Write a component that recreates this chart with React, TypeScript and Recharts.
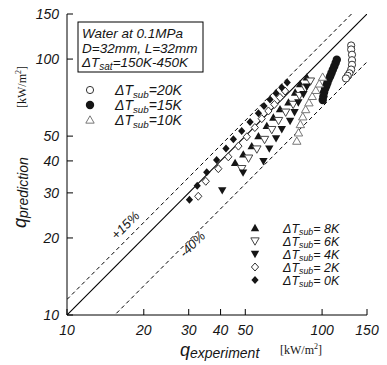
import { ReferenceLine, Scatter, ScatterChart, XAxis, YAxis } from "recharts";

const axisTicks = [10, 20, 30, 40, 50, 100, 150];
const innerTicks = [20, 30, 40, 50, 100];

// experiment / prediction pairs per subcooling, kW/m2
const exp20K = [130, 130, 131, 131, 131, 130, 128, 126, 124];
const pred20K = [113, 109, 104, 99, 95, 91, 88, 86, 84];

const exp15K = [100.6, 101.2, 101.8, 102.8, 103.8, 104.8, 106, 107.5, 108.8, 110.2, 111.6, 113, 114.2];
const pred15K = [69.2, 71.5, 74, 76.5, 78.5, 80.5, 83, 85.5, 88, 90.8, 93.5, 96.5, 99.4];

const exp10K = [79.6, 80.8, 82.2, 84.0, 86.2, 88.8, 91.5, 94.5, 97.5, 100.5];
const pred10K = [47.8, 51.5, 55.5, 59.5, 63.5, 67.5, 71.5, 75.5, 80, 85];

const exp8K = [45.6, 49.1, 53.0, 56.3, 60.7, 64.4, 68.4, 73.8, 78.4, 82.0, 87.1];
const pred8K = [39.3, 42.4, 45.7, 50.0, 54.8, 59.1, 63.7, 67.7, 74.0, 79.8, 84.8];

const exp6K = [48.4, 51.5, 55.5, 59.5, 63.5, 67.5, 72, 77, 81.5, 86, 90];
const pred6K = [37.3, 41.0, 44.5, 48.5, 53, 57.5, 62, 66.5, 72, 77, 82];

const exp4K = [40.6, 49, 58.9, 62.1, 66, 69.5, 74.9, 78, 80.7, 84.5, 87.1];
const pred4K = [30.7, 36, 39.9, 44.7, 49, 53.2, 57.3, 62, 67.7, 72.9, 78];

const exp2K = [32.7, 35.0, 39.2, 42.9, 47.0, 50.7, 54.5, 58, 61.6, 65, 68.4, 71.6];
const pred2K = [29.1, 33.3, 37.3, 41.5, 45.7, 49.7, 54, 58.5, 62.7, 66.5, 70.8, 75];

const exp0K = [30.2, 32.4, 35.3, 38.6, 42.0, 44.9, 48.4, 52.2, 56.3, 59.2, 62.5, 66, 69.5, 73];
const pred0K = [28.2, 32.0, 36.1, 40.3, 44.7, 48.6, 52.3, 56.8, 61.4, 65.6, 69.5, 73.5, 77.5, 81];

// band lines: q_pred = factor * q_exp
const upperFactor = 1.15;
const lowerFactor = 0.65;

const toPoints = (xs: number[], ys: number[]) => xs.map((x, i) => ({ x, y: ys[i] }));

const sans = "'Liberation Sans', Arial, sans-serif";
const serif = "'Liberation Serif', 'Times New Roman', serif";
const ink = "#151515";

type Kind = "oc" | "fc" | "ot" | "ft" | "od" | "fd" | "odia" | "fdia";

function Marker({ kind, cx, cy }: { kind: Kind; cx: number; cy: number }) {
  const s = 4.2;
  const up = `${cx},${cy - s} ${cx - s},${cy + s * 0.75} ${cx + s},${cy + s * 0.75}`;
  const down = `${cx},${cy + s} ${cx - s},${cy - s * 0.75} ${cx + s},${cy - s * 0.75}`;
  const dia = `${cx},${cy - 4} ${cx + 3.6},${cy} ${cx},${cy + 4} ${cx - 3.6},${cy}`;
  switch (kind) {
    case "oc":
      return <circle cx={cx} cy={cy} r={3.6} fill="#fff" stroke="#333" strokeWidth={1} />;
    case "fc":
      return <circle cx={cx} cy={cy} r={4.2} fill={ink} />;
    case "ot":
      return <polygon points={up} fill="#fff" stroke="#777" strokeWidth={1} />;
    case "ft":
      return <polygon points={up} fill={ink} />;
    case "od":
      return <polygon points={down} fill="#fff" stroke="#444" strokeWidth={1} />;
    case "fd":
      return <polygon points={down} fill={ink} />;
    case "odia":
      return <polygon points={dia} fill="#fff" stroke="#333" strokeWidth={1} />;
    default:
      return <polygon points={dia} fill={ink} />;
  }
}

const shapeOf = (kind: Kind) => (p: any) => <Marker kind={kind} cx={p.cx} cy={p.cy} />;

function SubLabel({ x, y, value, size = 14 }: { x: number; y: number; value: string; size?: number }) {
  const shift = size > 13 ? 2.5 : 2;
  return (
    <text x={x} y={y} fontFamily={sans} fontStyle="italic" fontSize={size} fill={ink}>
      ΔT
      <tspan fontSize={size * 0.7} dy={shift}>
        sub
      </tspan>
      <tspan dy={-shift}>={value}</tspan>
    </text>
  );
}

const series: { name: string; kind: Kind; xs: number[]; ys: number[] }[] = [
  { name: "20K", kind: "oc", xs: exp20K, ys: pred20K },
  { name: "15K", kind: "fc", xs: exp15K, ys: pred15K },
  { name: "10K", kind: "ot", xs: exp10K, ys: pred10K },
  { name: "8K", kind: "ft", xs: exp8K, ys: pred8K },
  { name: "6K", kind: "od", xs: exp6K, ys: pred6K },
  { name: "4K", kind: "fd", xs: exp4K, ys: pred4K },
  { name: "2K", kind: "odia", xs: exp2K, ys: pred2K },
  { name: "0K", kind: "fdia", xs: exp0K, ys: pred0K },
];

const tickStyle = { fill: ink, fontSize: 14, fontStyle: "italic", fontFamily: sans };

export default function App() {
  return (
    <div style={{ position: "relative", width: 387, height: 365, background: "#fff" }}>
      <style>{"body{margin:0;background:#fff}"}</style>
      <ScatterChart width={387} height={365} margin={{ top: 14, right: 20, bottom: 20, left: 27 }}>
        <XAxis
          type="number"
          dataKey="x"
          scale="log"
          domain={[10, 150]}
          ticks={axisTicks}
          allowDataOverflow
          height={30}
          stroke="#000"
          tickLine={{ stroke: "#000" }}
          tickSize={-6}
          tickMargin={16}
          tick={tickStyle}
        />
        <XAxis
          xAxisId="top"
          orientation="top"
          type="number"
          scale="log"
          domain={[10, 150]}
          ticks={innerTicks}
          allowDataOverflow
          height={0}
          stroke="#000"
          tickLine={{ stroke: "#000" }}
          tickSize={-6}
          tick={false}
        />
        <YAxis
          type="number"
          dataKey="y"
          scale="log"
          domain={[10, 150]}
          ticks={axisTicks}
          allowDataOverflow
          width={40}
          stroke="#000"
          tickLine={{ stroke: "#000" }}
          tickSize={-6}
          tickMargin={14}
          tick={tickStyle}
        />
        <YAxis
          yAxisId="right"
          orientation="right"
          type="number"
          scale="log"
          domain={[10, 150]}
          ticks={innerTicks}
          allowDataOverflow
          width={0}
          stroke="#000"
          tickLine={{ stroke: "#000" }}
          tickSize={-6}
          tick={false}
        />
        <ReferenceLine segment={[{ x: 10, y: 10 }, { x: 150, y: 150 }]} stroke="#000" strokeWidth={1.1} ifOverflow="hidden" />
        <ReferenceLine
          segment={[{ x: 10, y: 10 * upperFactor }, { x: 150, y: 150 * upperFactor }]}
          stroke="#000"
          strokeDasharray="4 3"
          ifOverflow="hidden"
        />
        <ReferenceLine
          segment={[{ x: 10, y: 10 * lowerFactor }, { x: 150, y: 150 * lowerFactor }]}
          stroke="#000"
          strokeDasharray="4 3"
          ifOverflow="hidden"
        />
        {series.map((s) => (
          <Scatter
            key={s.name}
            name={s.name}
            data={toPoints(s.xs, s.ys)}
            shape={shapeOf(s.kind)}
            isAnimationActive={false}
          />
        ))}
      </ScatterChart>

      <svg width={387} height={365} style={{ position: "absolute", left: 0, top: 0, pointerEvents: "none" }}>
        <rect x={78} y={22} width={125} height={50} fill="#fff" stroke="#000" strokeWidth={1} />
        <g fontFamily={sans} fontStyle="italic" fontSize={13.5} fill={ink}>
          <text x={82} y={38}>Water at 0.1MPa</text>
          <text x={82} y={53}>D=32mm, L=32mm</text>
          <text x={82} y={67}>
            ΔT
            <tspan fontSize={10} dy={2.5}>
              sat
            </tspan>
            <tspan dy={-2.5}>=150K-450K</tspan>
          </text>
        </g>

        <Marker kind="oc" cx={90} cy={90} />
        <Marker kind="fc" cx={90} cy={105} />
        <Marker kind="ot" cx={90} cy={120} />
        <SubLabel x={115} y={95} value="20K" />
        <SubLabel x={115} y={110} value="15K" />
        <SubLabel x={115} y={125} value="10K" />

        <Marker kind="ft" cx={255} cy={228} />
        <Marker kind="od" cx={255} cy={241} />
        <Marker kind="fd" cx={255} cy={254} />
        <Marker kind="odia" cx={255} cy={267} />
        <Marker kind="fdia" cx={255} cy={280} />
        <SubLabel x={283} y={232.5} value=" 8K" size={12.5} />
        <SubLabel x={283} y={245.5} value=" 6K" size={12.5} />
        <SubLabel x={283} y={258.5} value=" 4K" size={12.5} />
        <SubLabel x={283} y={271.5} value=" 2K" size={12.5} />
        <SubLabel x={283} y={284.5} value=" 0K" size={12.5} />

        <text x={126} y={226} transform="rotate(-45 126 226)" textAnchor="middle" dominantBaseline="middle" fontFamily={sans} fontStyle="italic" fontSize={13} fill={ink}>
          +15%
        </text>
        <text x={193} y={245} transform="rotate(-45 193 245)" textAnchor="middle" dominantBaseline="middle" fontFamily={sans} fontStyle="italic" fontSize={13} fill={ink}>
          -40%
        </text>

        <text x={180} y={356} fontFamily={sans} fontStyle="italic" fontSize={18} fill={ink}>
          q
          <tspan fontSize={14} dy={2}>
            experiment
          </tspan>
        </text>
        <text x={280} y={354} fontFamily={serif} fontSize={12} fill={ink}>
          [kW/m
          <tspan fontSize={8} dy={-5}>
            2
          </tspan>
          <tspan dy={5}>]</tspan>
        </text>

        <text x={26} y={228} transform="rotate(-90 26 228)" fontFamily={sans} fontStyle="italic" fontSize={18} fill={ink}>
          q
          <tspan fontSize={14} dy={2}>
            prediction
          </tspan>
        </text>
        <text x={26} y={108} transform="rotate(-90 26 108)" fontFamily={serif} fontSize={12} fill={ink}>
          [kW/m
          <tspan fontSize={8} dy={-5}>
            2
          </tspan>
          <tspan dy={5}>]</tspan>
        </text>
      </svg>
    </div>
  );
}
